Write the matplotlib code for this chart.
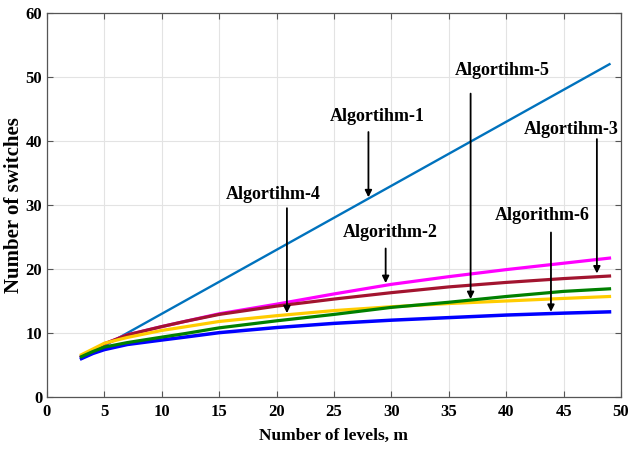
import matplotlib
matplotlib.use('Agg')
import matplotlib.pyplot as plt

# number of levels m and switch counts for each algorithm
levels = [3, 4, 5, 7, 10, 12, 15, 20, 25, 30, 35, 40, 45, 49]
alg1 = [6, 7, 8, 10, 13, 15, 18, 23, 28, 33, 38, 43, 48, 52]
alg2 = [6.3, 7.3, 8.3, 9.7, 11.0, 11.8, 13.0, 14.5, 16.1, 17.6, 18.8, 19.9, 20.9, 21.7]
alg3 = [6.3, 7.3, 8.3, 9.7, 11.0, 11.8, 12.9, 14.2, 15.3, 16.3, 17.2, 17.9, 18.5, 18.9]
alg4 = [6.6, 7.5, 8.4, 9.3, 10.4, 10.95, 11.8, 12.7, 13.5, 14.1, 14.6, 15.0, 15.4, 15.7]
alg5 = [6.3, 7.1, 7.8, 8.5, 9.35, 9.9, 10.8, 11.9, 12.9, 14.0, 14.8, 15.7, 16.5, 16.9]
alg6 = [6.0, 6.8, 7.4, 8.2, 8.9, 9.35, 10.05, 10.85, 11.5, 12.0, 12.4, 12.8, 13.1, 13.3]

x_ticks = [0, 5, 10, 15, 20, 25, 30, 35, 40, 45, 50]
y_ticks = [0, 10, 20, 30, 40, 50, 60]

plt.rcParams['font.family'] = ['Liberation Serif', 'DejaVu Serif']
plt.rcParams['font.weight'] = 'bold'

fig = plt.figure(figsize=(6.3, 4.54), dpi=100)
ax = fig.add_axes([0.0746, 0.1256, 0.9111, 0.8458])

ax.plot(levels, alg1, color='#0072BD', lw=1.7)
ax.plot(levels, alg2, color='#FF00FF', lw=2.3)
ax.plot(levels, alg3, color='#A2142F', lw=2.3)
ax.plot(levels, alg6, color='#0000FF', lw=2.5)
ax.plot(levels, alg4, color='#FFCC00', lw=2.3)
ax.plot(levels, alg5, color='#008000', lw=2.3)

ax.set_xlim(0, 50)
ax.set_ylim(0, 60)
ax.set_xticks(x_ticks)
ax.set_yticks(y_ticks)
ax.tick_params(direction='in', top=True, right=True, labelsize=12, length=4,
               color='#555555')
ax.tick_params(axis='x', pad=5)
ax.grid(True, color='#e3e3e3', lw=0.8)
ax.set_axisbelow(True)
for s in ax.spines.values():
    s.set_color('#555555')
    s.set_linewidth(0.9)

ax.set_xlabel('Number of levels, m', fontsize=12.5, fontweight='bold', labelpad=6)
ax.set_ylabel('Number of switches', fontsize=15, fontweight='bold', labelpad=1)

# labels with arrows pointing down to the curves
notes = [
    ('Algortihm-1', (28.75, 43.9), (28.0, 41.4), (28.0, 31.2)),
    ('Algortihm-5', (39.7, 51.0), (36.9, 47.4), (36.9, 15.3)),
    ('Algortihm-3', (45.7, 41.8), (47.9, 40.3), (47.9, 19.3)),
    ('Algortihm-4', (19.75, 31.7), (20.9, 29.5), (20.9, 13.1)),
    ('Algorithm-2', (29.9, 25.7), (29.5, 23.2), (29.5, 17.8)),
    ('Algorithm-6', (43.1, 28.3), (43.9, 25.7), (43.9, 13.3)),
]
for label, pos, start, tip in notes:
    ax.text(pos[0], pos[1], label, ha='center', va='center', fontsize=13,
            fontweight='bold')
    ax.annotate('', xy=tip, xytext=start,
                arrowprops=dict(arrowstyle='-|>', color='black', lw=1.3,
                                mutation_scale=10, shrinkA=0, shrinkB=0))

fig.savefig('out.png', dpi=100)
